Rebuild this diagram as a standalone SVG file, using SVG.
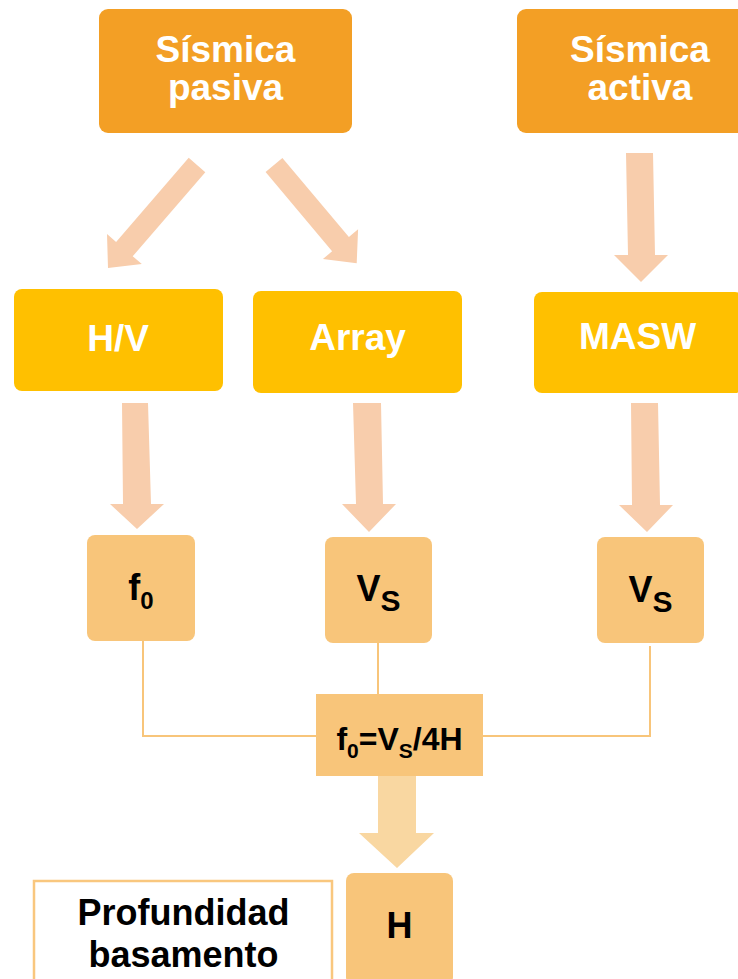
<svg xmlns="http://www.w3.org/2000/svg" width="738" height="979" viewBox="0 0 738 979">
  <style>
    .title { font-family: "Liberation Sans", Arial, sans-serif; font-weight: bold; font-size: 37px; fill: #FFFFFF; text-anchor: middle; }
    .label { font-family: "Liberation Sans", Arial, sans-serif; font-weight: bold; fill: #000000; text-anchor: middle; }
    .method { fill: #F39F25; }
    .tech { fill: #FFC000; }
    .result { fill: #F8C57A; }
    .arrow { fill: #F8CDAC; }
    .arrow-light { fill: #F9D7A1; }
    .link { fill: none; stroke: #F8C57A; stroke-width: 2; }
  </style>

  <!-- connectors: block arrows and joining lines -->
  <g id="connectors">
    <polygon class="arrow" points="205.3,172.2 132.7,256.3 141.8,264.1 108,268 107,234.1 116.1,241.9 188.7,157.8"/>
    <polygon class="arrow" points="282.4,157.9 348.9,237.1 358.1,229.3 356.7,263.3 322.9,259.1 332.1,251.3 265.6,172.1"/>
    <polygon class="arrow" points="626,153 653,153 655,255 668,255 641,282 614,255 628,255"/>
    <polygon class="arrow" points="122,403 148,403 151,504 164,504 137,529 110,504 123,504"/>
    <polygon class="arrow" points="353,403 381,403 383,504 396,504 369,532 342,504 356,504"/>
    <polygon class="arrow" points="631,403 658,403 660,505 673,505 647,532 619,505 632,505"/>
    <polyline class="link" points="143,641 143,736 316,736"/>
    <line class="link" x1="378" y1="643" x2="378" y2="694"/>
    <polyline class="link" points="650,646 650,736 483,736"/>
    <polygon class="arrow-light" points="378,776 416,776 416,833 434,833 397,868 359,833 378,833"/>
  </g>

  <g id="sismica-pasiva">
    <rect class="method" x="99" y="9" width="253" height="124" rx="9"/>
    <text class="title" x="225.5" y="62">Sísmica</text>
    <text class="title" x="225.5" y="100">pasiva</text>
  </g>

  <g id="sismica-activa">
    <rect class="method" x="517" y="9" width="253" height="124" rx="9"/>
    <text class="title" x="640" y="62">Sísmica</text>
    <text class="title" x="640" y="100">activa</text>
  </g>

  <g id="hv">
    <rect class="tech" x="14" y="289" width="209" height="102" rx="8"/>
    <text class="title" x="118" y="351">H/V</text>
  </g>

  <g id="array">
    <rect class="tech" x="253" y="291" width="209" height="102" rx="8"/>
    <text class="title" x="357.5" y="350">Array</text>
  </g>

  <g id="masw">
    <rect class="tech" x="534" y="292" width="209" height="101" rx="8"/>
    <text class="title" x="637.5" y="349">MASW</text>
  </g>

  <g id="f0">
    <rect class="result" x="87" y="535" width="108" height="106" rx="8"/>
    <text class="label" x="141" y="600" font-size="36">f<tspan font-size="24" dy="9">0</tspan></text>
  </g>

  <g id="vs-array">
    <rect class="result" x="325" y="537" width="107" height="106" rx="8"/>
    <text class="label" x="378.5" y="601" font-size="36">V<tspan font-size="30" dy="10">S</tspan></text>
  </g>

  <g id="vs-masw">
    <rect class="result" x="597" y="537" width="107" height="106" rx="8"/>
    <text class="label" x="650.5" y="602" font-size="36">V<tspan font-size="30" dy="10">S</tspan></text>
  </g>

  <g id="formula">
    <rect class="result" x="316" y="694" width="167" height="82"/>
    <text class="label" x="399.5" y="750" font-size="32">f<tspan font-size="21" dy="8">0</tspan><tspan dy="-8">=V</tspan><tspan font-size="21" dy="8">S</tspan><tspan dy="-8">/4H</tspan></text>
  </g>

  <g id="h">
    <rect class="result" x="346" y="873" width="107" height="112" rx="8"/>
    <text class="label" x="399.5" y="938" font-size="36">H</text>
  </g>

  <g id="profundidad">
    <rect x="34" y="881" width="298" height="120" fill="#FFFFFF" stroke="#F9C77E" stroke-width="2.5"/>
    <text class="label" x="183.5" y="925" font-size="36">Profundidad</text>
    <text class="label" x="183.5" y="967" font-size="36">basamento</text>
  </g>
</svg>
